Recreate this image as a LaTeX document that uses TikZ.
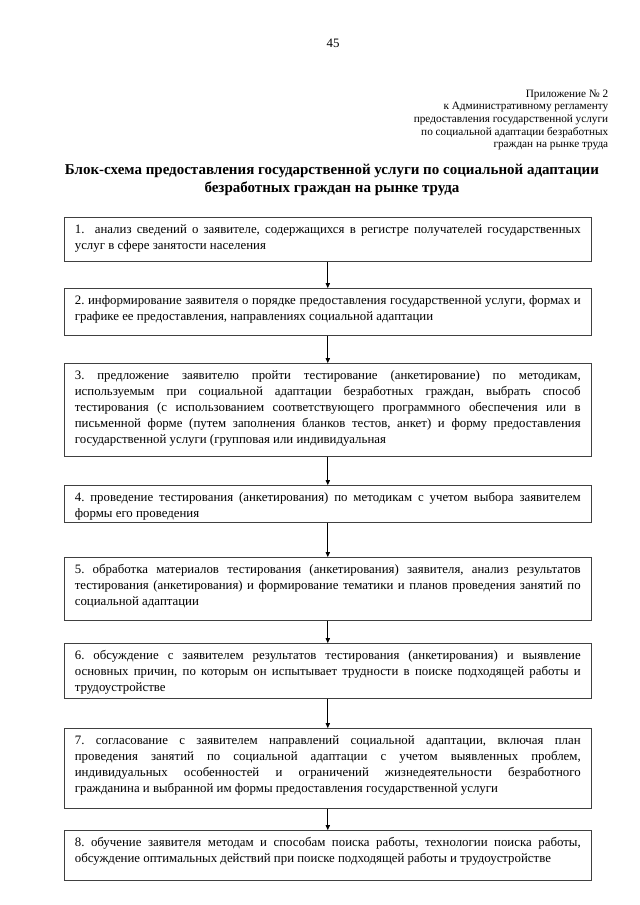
\documentclass[tikz,border=0pt]{standalone}
\usepackage{fontspec}
\setmainfont{Liberation Serif}
\usetikzlibrary{arrows.meta,positioning}
\hyphenpenalty=10000 \exhyphenpenalty=10000 \tolerance=9999
\frenchspacing

\begin{document}
\begin{tikzpicture}[x=0.328125mm,y=-0.328125mm,every node/.style={font=\fontsize{12}{15}\selectfont},
  blk/.style={draw=black!75,line width=.6pt,anchor=north west,text width=166mm,inner xsep=3.45mm,inner ysep=0pt,
    align=justify,text height=5.3mm,text depth=#1},
  arr/.style={line width=.6pt,-{Triangle[length=4.5pt,width=4pt]}}]
\useasboundingbox[fill=white] (0,0) rectangle (640,905);
\node (pg) at (333,43) {45};
\node[anchor=north east,align=right,font=\fontsize{10.5}{11.8}\selectfont] (app) at (612,86)
  {Приложение № 2\\к Административному регламенту\\предоставления государственной услуги\\по социальной адаптации безработных\\граждан на рынке труда};
\node[align=center,font=\bfseries\fontsize{14}{16.5}\selectfont] (ttl) at (332,180)
  {Блок-схема предоставления государственной услуги по социальной адаптации\\безработных граждан на рынке труда};
\node[blk=9.14mm] (b1) at (64,217) {{\large 1.}\ \ анализ сведений о заявителе, содержащихся в регистре получателей государственных\linebreak услуг в сфере занятости населения};
\node[blk=10.12mm] (b2) at (64,288) {{\large 2.} информирование заявителя о порядке предоставления государственной услуги, формах и\linebreak графике ее предоставления, направлениях социальной адаптации};
\node[blk=25.22mm] (b3) at (64,363) {3. предложение заявителю пройти тестирование (анкетирование) по методикам,\linebreak используемым при социальной адаптации безработных граждан, выбрать способ\linebreak тестирования (с использованием соответствующего программного обеспечения или в\linebreak письменной форме (путем заполнения бланков тестов, анкет) и форму предоставления\linebreak государственной услуги (групповая или индивидуальная};
\node[blk=6.84mm] (b4) at (64,485) {4. проведение тестирования (анкетирования) по методикам с учетом выбора заявителем\linebreak формы его проведения};
\node[blk=15.37mm] (b5) at (64,557) {5. обработка материалов тестирования (анкетирования) заявителя, анализ результатов\linebreak тестирования (анкетирования) и формирование тематики и планов проведения занятий по\linebreak социальной адаптации};
\node[blk=12.75mm] (b6) at (64,643) {6. обсуждение с заявителем результатов тестирования (анкетирования) и выявление\linebreak основных причин, по которым он испытывает трудности в поиске подходящей работы и\linebreak трудоустройстве};
\node[blk=20.95mm] (b7) at (64,728) {7. согласование с заявителем направлений социальной адаптации, включая план\linebreak проведения занятий по социальной адаптации с учетом выявленных проблем,\linebreak индивидуальных особенностей и ограничений жизнедеятельности безработного\linebreak гражданина и выбранной им формы предоставления государственной услуги};
\node[blk=11.11mm] (b8) at (64,830) {8. обучение заявителя методам и способам поиска работы, технологии поиска работы,\linebreak обсуждение оптимальных действий при поиске подходящей работы и трудоустройстве};
\foreach \a/\b in {b1/b2,b2/b3,b3/b4,b4/b5,b5/b6,b6/b7,b7/b8}
  \draw[arr] (\a) -- (\b);
\end{tikzpicture}
\end{document}
